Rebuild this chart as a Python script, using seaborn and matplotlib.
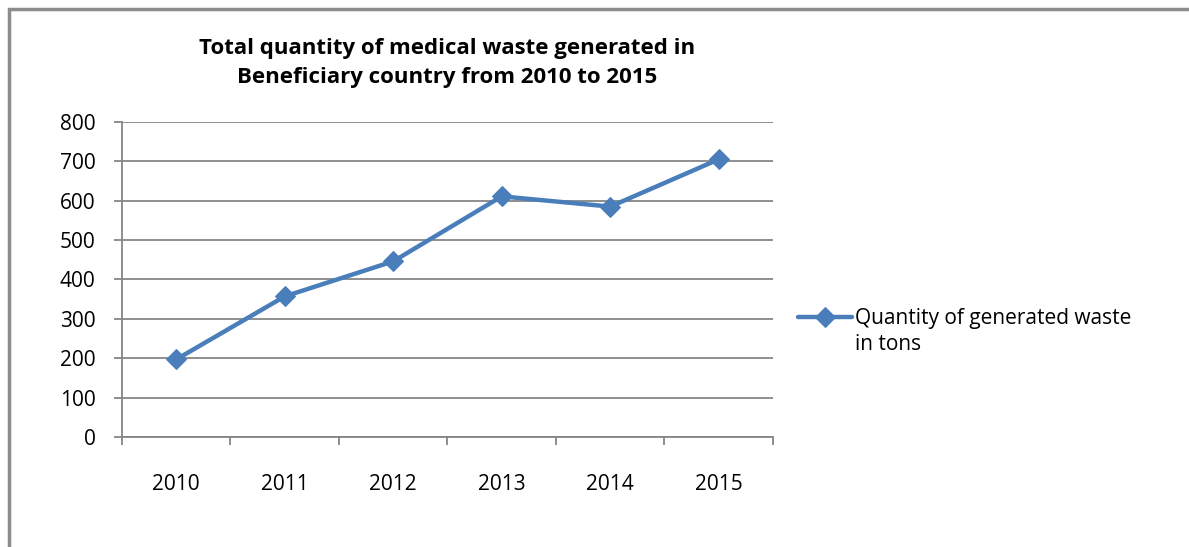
import numpy as np
import pandas as pd
import matplotlib.pyplot as plt
import seaborn as sns
from matplotlib.patches import Rectangle

sns.set_style('white')
plt.rcParams['font.family'] = ['Open Sans', 'DejaVu Sans']
plt.rcParams['text.color'] = 'black'
plt.rcParams['xtick.color'] = 'black'
plt.rcParams['ytick.color'] = 'black'

# data
years = ['2010', '2011', '2012', '2013', '2014', '2015']
waste_tons = [197, 357, 446, 611, 585, 705]
series_name = 'Quantity of generated waste'
series_name_2 = 'in tons'

df = pd.DataFrame({'year': years, 'tons': waste_tons})

fig = plt.figure(figsize=(11.89, 5.47), dpi=100)
ax = fig.add_axes([0.1026, 0.2011, 0.5475, 0.576])

blue = '#4A7EBB'
grey = '#868686'
sns.lineplot(data=df, x='year', y='tons', ax=ax, color=blue, linewidth=3.2,
             marker='D', markersize=10, markeredgecolor=blue, label=series_name)

ax.set_xlim(-0.5, len(years) - 0.5)
ax.set_ylim(0, 800)
ax.set_yticks(range(0, 801, 100))
ax.set_xticks(range(len(years)))
ax.set_xticklabels(years)
ax.set_xticks(np.arange(-0.5, len(years)), minor=True)
ax.tick_params(axis='x', which='major', bottom=False, length=0, pad=27, labelsize=15)
ax.tick_params(axis='x', which='minor', bottom=True, length=6, color=grey, width=1.3, direction='out')
ax.tick_params(axis='y', left=True, length=6, color=grey, width=1.3, direction='out', labelsize=15, pad=13)
ax.set_xlabel('')
ax.set_ylabel('')
ax.grid(axis='y', color=grey, linewidth=1.3)
ax.set_axisbelow(True)
for s in ['top', 'right']:
    ax.spines[s].set_visible(False)
for s in ['left', 'bottom']:
    ax.spines[s].set_color(grey)
    ax.spines[s].set_linewidth(1.3)

ax.set_title('Total quantity of medical waste generated in\nBeneficiary country from 2010 to 2015',
             fontsize=16, fontweight='bold', pad=28, linespacing=1.5)

leg = ax.legend(loc='center left', bbox_to_anchor=(1.025, 0.375), frameon=False,
                fontsize=15, handlelength=2.6, handletextpad=0.15, borderaxespad=0)

# second line of the legend label, placed under the first
fig.canvas.draw()
bb = leg.get_texts()[0].get_window_extent().transformed(fig.transFigure.inverted())
fig.text(bb.x0, bb.y0 - 0.008, series_name_2, fontsize=15, va='top', ha='left')

# outer chart border (runs off the right and bottom edges)
fig.patches.append(Rectangle((9 / 1189, -0.1), 1.2, 1 - 9 / 547 + 0.1,
                             transform=fig.transFigure, fill=False,
                             edgecolor='#8c8c8c', linewidth=2.5))

fig.savefig('out.png', dpi=100)
